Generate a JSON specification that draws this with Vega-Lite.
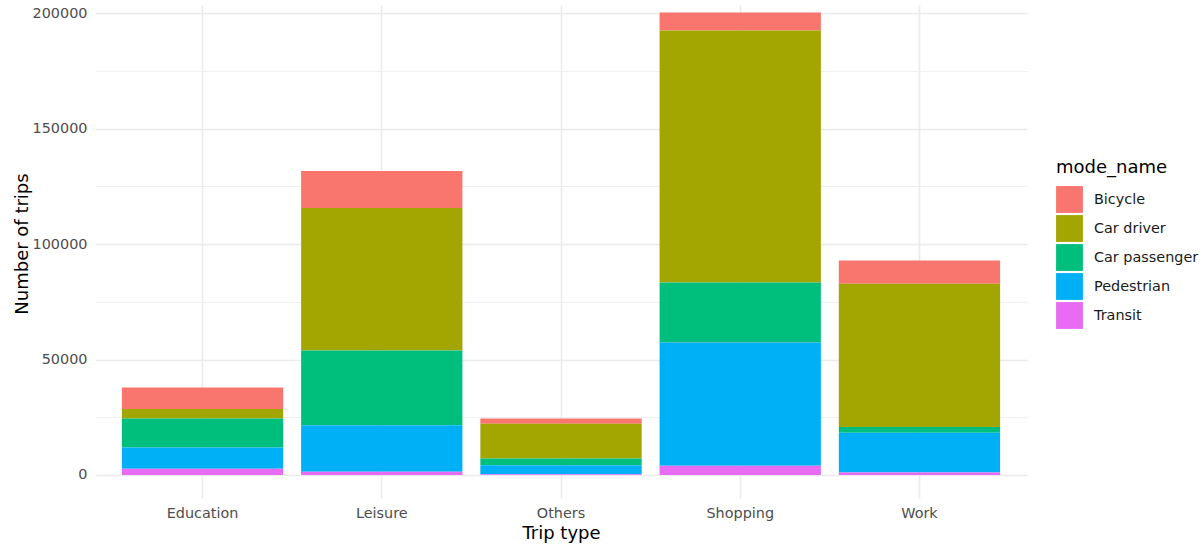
{
  "$schema": "https://vega.github.io/schema/vega-lite/v6.json",
  "width": 932,
  "height": 493,
  "autosize": "none",
  "padding": {"left": 95, "top": 5, "right": 174, "bottom": 49},
  "background": "white",
  "config": {
    "font": "DejaVu Sans",
    "view": {"stroke": null},
    "axis": {"domain": false, "ticks": false, "gridColor": "#EBEBEB"}
  },
  "data": {
    "values": [
      {"trip_type": "Education", "mode_name": "Bicycle", "n": 9300},
      {"trip_type": "Education", "mode_name": "Car driver", "n": 4200},
      {"trip_type": "Education", "mode_name": "Car passenger", "n": 12500},
      {"trip_type": "Education", "mode_name": "Pedestrian", "n": 9200},
      {"trip_type": "Education", "mode_name": "Transit", "n": 2700},
      {"trip_type": "Leisure", "mode_name": "Bicycle", "n": 16000},
      {"trip_type": "Leisure", "mode_name": "Car driver", "n": 61800},
      {"trip_type": "Leisure", "mode_name": "Car passenger", "n": 32400},
      {"trip_type": "Leisure", "mode_name": "Pedestrian", "n": 20100},
      {"trip_type": "Leisure", "mode_name": "Transit", "n": 1400},
      {"trip_type": "Others", "mode_name": "Bicycle", "n": 2200},
      {"trip_type": "Others", "mode_name": "Car driver", "n": 15100},
      {"trip_type": "Others", "mode_name": "Car passenger", "n": 2900},
      {"trip_type": "Others", "mode_name": "Pedestrian", "n": 3900},
      {"trip_type": "Others", "mode_name": "Transit", "n": 300},
      {"trip_type": "Shopping", "mode_name": "Bicycle", "n": 7800},
      {"trip_type": "Shopping", "mode_name": "Car driver", "n": 109100},
      {"trip_type": "Shopping", "mode_name": "Car passenger", "n": 26000},
      {"trip_type": "Shopping", "mode_name": "Pedestrian", "n": 53400},
      {"trip_type": "Shopping", "mode_name": "Transit", "n": 4000},
      {"trip_type": "Work", "mode_name": "Bicycle", "n": 10100},
      {"trip_type": "Work", "mode_name": "Car driver", "n": 62000},
      {"trip_type": "Work", "mode_name": "Car passenger", "n": 2500},
      {"trip_type": "Work", "mode_name": "Pedestrian", "n": 17200},
      {"trip_type": "Work", "mode_name": "Transit", "n": 1100}
    ]
  },
  "mark": {"type": "bar"},
  "encoding": {
    "x": {
      "field": "trip_type",
      "type": "nominal",
      "scale": {"paddingInner": 0.1, "paddingOuter": 0.15},
      "axis": {
        "title": "Trip type",
        "labelAngle": 0,
        "labelFontSize": 14.4,
        "labelColor": "#4D4D4D",
        "labelPadding": 8,
        "titleFontSize": 18,
        "titleFontWeight": "normal",
        "titleColor": "#000000",
        "titlePadding": 5,
        "grid": true,
        "gridWidth": 1.6,
        "bandPosition": 0.5
      }
    },
    "y": {
      "field": "n",
      "type": "quantitative",
      "stack": "zero",
      "scale": {"domain": [-10000, 203600], "nice": false, "zero": false},
      "axis": {
        "title": "Number of trips",
        "values": [0, 25000, 50000, 75000, 100000, 125000, 150000, 175000, 200000],
        "labelExpr": "datum.value % 50000 == 0 ? format(datum.value, 'd') : ''",
        "labelFontSize": 14.4,
        "labelColor": "#4D4D4D",
        "labelPadding": 8,
        "titleFontSize": 18,
        "titleFontWeight": "normal",
        "titleColor": "#000000",
        "titlePadding": 1,
        "titleY": 238.5,
        "grid": true,
        "gridWidth": {"condition": {"test": "datum.value % 50000 != 0", "value": 0.8}, "value": 1.6}
      }
    },
    "color": {
      "field": "mode_name",
      "type": "nominal",
      "scale": {
        "domain": ["Bicycle", "Car driver", "Car passenger", "Pedestrian", "Transit"],
        "range": ["#F8766D", "#A3A500", "#00BF7D", "#00B0F6", "#E76BF3"]
      },
      "legend": {
        "title": "mode_name",
        "orient": "none",
        "legendX": 961,
        "legendY": 154,
        "titleFontSize": 18,
        "titleFontWeight": "normal",
        "titleColor": "#000000",
        "titlePadding": 9,
        "labelFontSize": 14.4,
        "labelColor": "#1A1A1A",
        "labelOffset": 11,
        "symbolType": "square",
        "symbolSize": 720,
        "symbolStrokeWidth": 0,
        "symbolOpacity": 1,
        "rowPadding": 2
      }
    },
    "order": {"field": "mode_name", "sort": "descending"}
  }
}
